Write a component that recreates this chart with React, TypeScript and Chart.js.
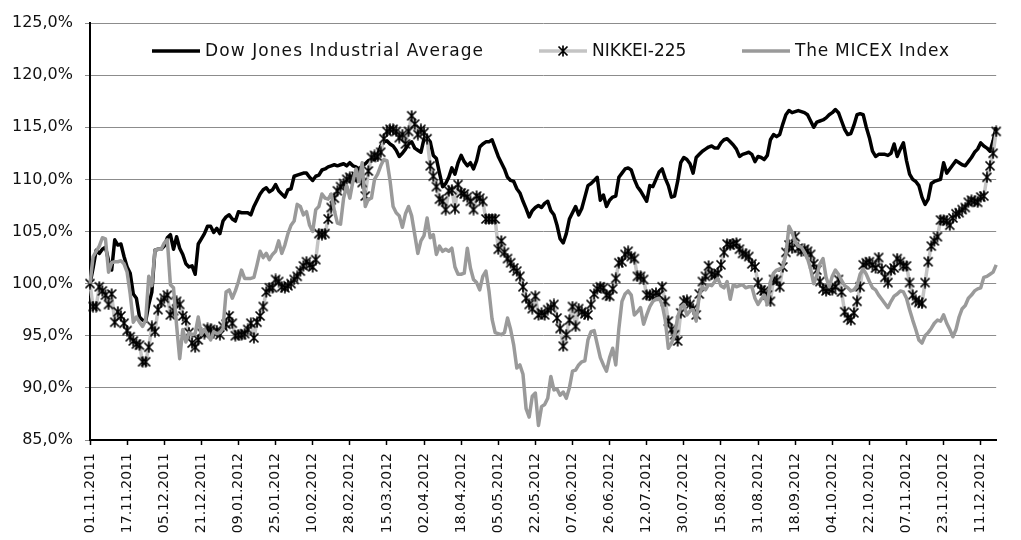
import React, { useEffect, useRef } from "react";
import { Chart, registerables } from "chart.js";

Chart.register(...registerables);

const tickLabels = [
  "01.11.2011", "17.11.2011", "05.12.2011", "21.12.2011", "09.01.2012", "25.01.2012",
  "10.02.2012", "28.02.2012", "15.03.2012", "02.04.2012", "18.04.2012", "05.05.2012",
  "22.05.2012", "07.06.2012", "26.06.2012", "12.07.2012", "30.07.2012", "15.08.2012",
  "31.08.2012", "18.09.2012", "04.10.2012", "22.10.2012", "07.11.2012", "23.11.2012",
  "11.12.2012",
];

const seriesNames = ["Dow Jones Industrial Average", "NIKKEI-225", "The MICEX Index"];

const dowJones = [
  100.0, 101.5, 103.2, 102.9, 103.3, 103.5, 102.2, 101.3, 104.2, 103.7, 103.8, 102.6,
  101.6, 101.0, 99.0, 98.6, 96.8, 96.5, 96.4, 98.0, 99.2, 103.2, 103.3, 103.3,
  103.6, 104.4, 104.7, 103.3, 104.5, 103.4, 102.8, 101.9, 101.6, 101.7, 100.9, 103.8,
  104.3, 104.8, 105.5, 105.5, 104.9, 105.3, 104.8, 106.0, 106.4, 106.6, 106.2, 106.0,
  106.9, 106.8, 106.8, 106.8, 106.6, 107.4, 108.0, 108.6, 109.0, 109.2, 108.8, 109.0,
  109.5, 108.9, 108.6, 108.3, 109.0, 109.1, 110.3, 110.4, 110.5, 110.6, 110.6, 110.2,
  109.9, 110.3, 110.4, 110.9, 111.0, 111.2, 111.3, 111.4, 111.3, 111.4, 111.5, 111.3,
  111.6, 111.3, 111.2, 111.0, 111.3, 111.5, 111.8, 111.9, 111.9, 112.3, 113.2, 113.6,
  113.7, 113.4, 113.2, 112.8, 112.2, 112.5, 112.9, 113.4, 113.6, 113.0, 112.8, 112.6,
  113.9, 114.0, 113.6, 112.3, 112.0, 110.6, 109.3, 109.6, 110.2, 111.1, 110.5, 111.6,
  112.3, 111.7, 111.3, 111.6, 111.0, 111.8, 113.1, 113.4, 113.6, 113.6, 113.8, 113.0,
  112.2, 111.6, 111.0, 110.2, 109.9, 109.8, 109.1, 108.7, 107.9, 107.2, 106.4, 107.0,
  107.3, 107.5, 107.3, 107.7, 107.9, 107.0, 106.6, 105.6, 104.3, 103.9, 104.8, 106.2,
  106.8, 107.4, 106.6, 107.2, 108.3, 109.4, 109.6, 109.9, 110.2, 108.0, 108.5, 107.4,
  108.0, 108.3, 108.4, 110.2, 110.6, 111.0, 111.1, 110.9, 110.0, 109.3, 108.9, 108.4,
  107.9, 109.4, 109.3, 110.0, 110.7, 111.0, 110.1, 109.4, 108.3, 108.4, 109.8, 111.6,
  112.1, 111.9, 111.5, 110.6, 112.1, 112.4, 112.7, 112.9, 113.1, 113.2, 113.0, 113.0,
  113.5, 113.8, 113.9, 113.6, 113.3, 112.9, 112.2, 112.4, 112.5, 112.6, 112.4, 111.7,
  112.2, 112.1, 111.9, 112.3, 113.8, 114.3, 114.1, 114.3, 115.3, 116.2, 116.6, 116.4,
  116.5, 116.6, 116.5, 116.4, 116.2, 115.6, 115.0, 115.5, 115.6, 115.7, 115.9, 116.2,
  116.4, 116.7, 116.4, 115.6, 114.8, 114.3, 114.4, 115.2, 116.2, 116.3, 116.2, 115.0,
  114.0, 112.7, 112.2, 112.4, 112.4, 112.4, 112.3, 112.5, 113.4, 112.2, 112.9, 113.5,
  111.8, 110.5, 110.0, 109.8, 109.4, 108.3, 107.6, 108.1, 109.6, 109.8, 109.9, 110.0,
  111.6, 110.6, 111.0, 111.4, 111.8, 111.6, 111.4, 111.3, 111.7, 112.1, 112.6, 112.9,
  113.5, 113.2, 113.0, 112.7, 113.7, 115.0,
];

const nikkei225 = [
  100.0, 97.8, 97.8, 99.7, 99.3, 98.9, 98.0, 99.0, 96.3, 97.3, 96.9, 96.2,
  95.5, 94.9, 94.5, 94.2, 94.1, 92.5, 92.5, 93.9, 95.9, 95.4, 97.5, 98.2,
  98.6, 98.9, 97.0, 97.4, 98.3, 98.0, 96.9, 96.5, 95.3, 94.3, 93.9, 94.6,
  95.3, 95.2, 95.7, 95.6, 95.3, 95.5, 95.1, 95.9, 96.1, 96.9, 96.2, 95.0,
  95.1, 95.1, 95.2, 95.6, 96.2, 94.8, 96.3, 96.9, 97.8, 99.2, 99.6, 99.6,
  100.4, 100.2, 99.7, 99.6, 99.8, 100.0, 100.4, 100.7, 101.2, 101.7, 102.1, 101.8,
  101.6, 102.3, 104.8, 104.7, 104.8, 106.2, 107.3, 108.2, 108.9, 109.3, 109.6, 110.0,
  110.2, 110.1, 110.3, 110.5, 109.7, 108.4, 110.8, 112.1, 112.3, 112.2, 112.6, 113.9,
  114.6, 114.8, 114.8, 114.6, 114.0, 114.3, 113.4, 114.6, 116.1, 115.3, 114.3, 114.8,
  114.5, 113.9, 111.3, 110.3, 109.3, 108.1, 107.9, 107.1, 108.9, 109.0, 107.2, 109.5,
  108.7, 108.6, 108.3, 107.9, 107.1, 108.4, 108.2, 107.9, 106.2, 106.2, 106.2, 106.2,
  103.3, 104.1, 103.0, 102.4, 102.0, 101.5, 101.2, 100.7, 99.7, 98.6, 98.0, 97.6,
  98.8, 97.0, 97.2, 97.0, 97.5, 97.7, 98.0, 96.7, 95.7, 94.0, 95.1, 96.5,
  97.8, 95.9, 97.6, 97.3, 97.1, 97.0, 98.0, 99.0, 99.5, 99.7, 99.6, 98.9,
  98.8, 99.5, 100.5, 102.0, 102.1, 102.8, 103.1, 102.6, 102.4, 100.7, 100.7, 100.4,
  98.9, 98.9, 98.8, 99.1, 98.9, 99.7, 98.3, 96.4, 95.6, 95.1, 94.5, 97.2,
  98.3, 98.4, 98.0, 97.6, 97.0, 99.0, 100.2, 100.7, 101.7, 100.9, 100.8, 101.0,
  101.8, 103.0, 103.8, 103.7, 103.8, 103.9, 103.3, 102.9, 102.8, 102.6, 101.9, 101.6,
  100.1, 99.4, 99.3, 98.9, 98.3, 100.4, 100.3, 99.7, 101.6, 103.0, 103.7, 103.4,
  104.5, 103.4, 103.1, 103.3, 103.1, 102.8, 101.9, 101.3, 100.2, 99.5, 99.3, 99.5,
  99.4, 99.7, 100.4, 99.2, 97.3, 96.7, 96.5, 97.2, 98.3, 99.7, 101.8, 102.0,
  102.1, 101.8, 101.5, 102.5, 101.4, 100.6, 100.1, 101.3, 101.5, 102.4, 102.1, 101.7,
  101.7, 100.1, 98.9, 98.4, 98.2, 98.1, 100.1, 102.1, 103.6, 104.1, 104.5, 106.1,
  106.1, 106.0, 105.6, 106.3, 106.7, 106.8, 107.1, 107.3, 107.8, 108.0, 107.9, 107.8,
  108.3, 108.4, 110.2, 111.3, 112.5, 114.6,
];

const micex = [
  100.0, 102.6, 103.1, 103.6, 104.4, 104.3, 101.1, 102.0, 102.1, 102.1, 102.2, 101.9,
  101.1, 99.0, 96.3, 96.8, 96.3, 95.9, 96.5, 100.7, 99.8, 103.2, 103.3, 103.3,
  103.9, 104.2, 99.9, 99.6, 96.0, 92.8, 95.6, 94.4, 95.3, 95.1, 95.2, 96.8,
  95.1, 95.6, 95.1, 94.6, 95.4, 95.2, 95.3, 95.7, 99.2, 99.4, 98.6, 99.3,
  100.2, 101.3, 100.5, 100.5, 100.5, 100.6, 101.8, 103.1, 102.5, 102.9, 102.3, 102.8,
  103.1, 104.1, 102.9, 103.7, 104.8, 105.6, 106.0, 107.6, 107.4, 106.6, 106.9, 105.6,
  105.0, 107.1, 107.4, 108.6, 108.2, 108.1, 108.6, 107.0, 105.8, 105.7, 108.2, 109.4,
  108.2, 109.8, 111.0, 109.8, 111.6, 107.4, 108.1, 108.2, 110.0, 110.5, 111.3, 111.9,
  111.8, 109.9, 107.4, 106.8, 106.5, 105.4, 106.7, 107.4, 106.5, 104.7, 102.9, 104.1,
  104.6, 106.3, 104.4, 104.7, 102.8, 103.6, 103.1, 103.3, 103.1, 103.4, 101.6, 100.9,
  100.9, 101.0, 103.4, 101.5, 100.4, 100.1, 99.4, 100.7, 101.2, 99.3, 96.6, 95.3,
  95.2, 95.1, 95.3, 96.7, 95.6, 94.1, 91.9, 92.2, 91.3, 88.0, 87.2, 89.2,
  89.5, 86.4, 88.2, 88.4, 89.0, 91.1, 89.8, 89.9, 89.3, 89.6, 89.0, 90.0,
  91.6, 91.7, 92.2, 92.5, 92.6, 94.6, 95.4, 95.5, 94.2, 92.9, 92.2, 91.6,
  92.9, 93.8, 92.2, 95.7, 98.3, 99.0, 99.3, 98.9, 97.0, 97.3, 97.7, 96.1,
  97.0, 97.8, 98.3, 98.5, 98.6, 98.0, 96.5, 93.8, 94.3, 95.0, 96.8, 97.7,
  98.0, 97.0, 97.4, 97.5, 96.4, 98.9, 99.7, 99.4, 99.9, 99.8, 100.2, 100.5,
  99.8, 99.6, 100.2, 98.5, 99.9, 99.7, 99.8, 99.9, 99.6, 99.7, 99.7, 98.6,
  98.0, 98.5, 98.9, 98.0, 100.2, 101.0, 101.3, 101.4, 101.6, 102.8, 105.5, 104.9,
  104.0, 103.6, 103.5, 103.0, 102.4, 101.4, 100.0, 100.8, 101.9, 102.4, 100.6, 99.7,
  100.7, 101.3, 100.9, 100.3, 99.8, 99.6, 99.3, 99.4, 99.8, 100.9, 101.4, 100.9,
  100.2, 99.6, 99.4, 98.9, 98.5, 98.1, 97.7, 98.3, 98.8, 99.0, 99.3, 99.2,
  98.6, 97.5, 96.5, 95.6, 94.6, 94.3, 95.0, 95.3, 95.7, 96.2, 96.5, 96.4,
  97.0, 96.2, 95.6, 94.9, 95.6, 96.8, 97.6, 97.9, 98.6, 98.9, 99.3, 99.5,
  99.6, 100.6, 100.7, 100.9, 101.1, 101.8,
];

const LABEL_EVERY = 12;
const FONT = "'DejaVu Sans', sans-serif";

function makeAsterisk(): HTMLCanvasElement {
  const c = document.createElement("canvas");
  c.width = 12;
  c.height = 12;
  const g = c.getContext("2d")!;
  g.strokeStyle = "#000";
  g.lineWidth = 1.7;
  g.beginPath();
  g.moveTo(1.5, 1.5);
  g.lineTo(10.5, 10.5);
  g.moveTo(10.5, 1.5);
  g.lineTo(1.5, 10.5);
  g.moveTo(6, 0.5);
  g.lineTo(6, 11.5);
  g.stroke();
  return c;
}

export default function App() {
  const canvasRef = useRef<HTMLCanvasElement | null>(null);

  useEffect(() => {
    if (!canvasRef.current) return;
    const asterisk = makeAsterisk();

    const legendItems = [
      { text: seriesNames[0], color: "#000000", x: 152, textWidth: 278, marker: false },
      { text: seriesNames[1], color: "#c4c4c4", x: 539, textWidth: 92, marker: true },
      { text: seriesNames[2], color: "#9a9a9a", x: 742, textWidth: 154, marker: false },
    ];

    const insideLegend = {
      id: "insideLegend",
      afterDraw(chart: any) {
        const ctx = chart.ctx as CanvasRenderingContext2D;
        const y = 51;
        ctx.save();
        ctx.textBaseline = "middle";
        ctx.textAlign = "left";
        for (const it of legendItems) {
          ctx.strokeStyle = it.color;
          ctx.lineWidth = 3.5;
          ctx.lineCap = "butt";
          ctx.beginPath();
          ctx.moveTo(it.x, y);
          ctx.lineTo(it.x + 48, y);
          ctx.stroke();
          if (it.marker) {
            ctx.drawImage(asterisk, it.x + 24 - asterisk.width / 2, y - asterisk.height / 2);
          }
          ctx.font = `17px ${FONT}`;
          (ctx as any).letterSpacing = "0px";
          const measured = ctx.measureText(it.text).width;
          const extra = Math.max(0, (it.textWidth - measured) / Math.max(1, it.text.length - 1));
          (ctx as any).letterSpacing = `${extra.toFixed(2)}px`;
          ctx.fillStyle = "#111";
          ctx.fillText(it.text, it.x + 53, y + 1);
          (ctx as any).letterSpacing = "0px";
        }
        ctx.restore();
      },
    };

    const chart = new Chart(canvasRef.current, {
      type: "line",
      data: {
        labels: dowJones.map((_, i) => i),
        datasets: [
          {
            label: seriesNames[0],
            data: dowJones,
            borderColor: "#000000",
            backgroundColor: "#000000",
            borderWidth: 3.5,
            pointRadius: 0,
            tension: 0,
            borderJoinStyle: "round",
            order: 3,
          },
          {
            label: seriesNames[1],
            data: nikkei225,
            borderColor: "#c4c4c4",
            backgroundColor: "#000000",
            borderWidth: 3.5,
            pointRadius: 5,
            pointStyle: asterisk as any,
            tension: 0,
            borderJoinStyle: "round",
            clip: false as any,
            order: 2,
          },
          {
            label: seriesNames[2],
            data: micex,
            borderColor: "#9a9a9a",
            backgroundColor: "#9a9a9a",
            borderWidth: 3.5,
            pointRadius: 0,
            tension: 0,
            borderJoinStyle: "round",
            order: 1,
          },
        ],
      },
      options: {
        animation: false,
        responsive: true,
        maintainAspectRatio: false,
        layout: { padding: { top: 23, right: 2, left: 0, bottom: 0 } },
        plugins: {
          legend: { display: false },
          tooltip: { enabled: false },
        },
        scales: {
          x: {
            type: "category",
            offset: false,
            afterFit: (scale: any) => {
              scale.height = 100;
            },
            border: { display: true, color: "#000", width: 2 },
            grid: {
              drawOnChartArea: false,
              drawTicks: true,
              tickLength: 5,
              tickWidth: 1.5,
              tickColor: (ctx: any) =>
                ctx.index % LABEL_EVERY === 0 ? "#000" : "rgba(0,0,0,0)",
            },
            ticks: {
              autoSkip: false,
              maxRotation: 90,
              minRotation: 90,
              padding: 8,
              color: "#111",
              font: { family: FONT, size: 14 },
              callback: (_v: any, index: number) =>
                index % LABEL_EVERY === 0 ? tickLabels[index / LABEL_EVERY] ?? "" : "",
            },
          },
          y: {
            min: 85,
            max: 125,
            afterFit: (scale: any) => {
              scale.width = 90;
            },
            border: { display: true, color: "#000", width: 2 },
            grid: {
              color: "#8c8c8c",
              lineWidth: 1,
              drawTicks: true,
              tickLength: 5,
            },
            ticks: {
              stepSize: 5,
              padding: 12,
              color: "#111",
              font: { family: FONT, size: 16 },
              callback: (v: any) => Number(v).toFixed(1).replace(".", ",") + "%",
            },
          },
        },
      },
      plugins: [insideLegend],
    });

    return () => chart.destroy();
  }, []);

  return (
    <div style={{ position: "fixed", left: 0, top: 0, width: 1021, height: 540, background: "#fff" }}>
      <canvas ref={canvasRef} />
    </div>
  );
}
